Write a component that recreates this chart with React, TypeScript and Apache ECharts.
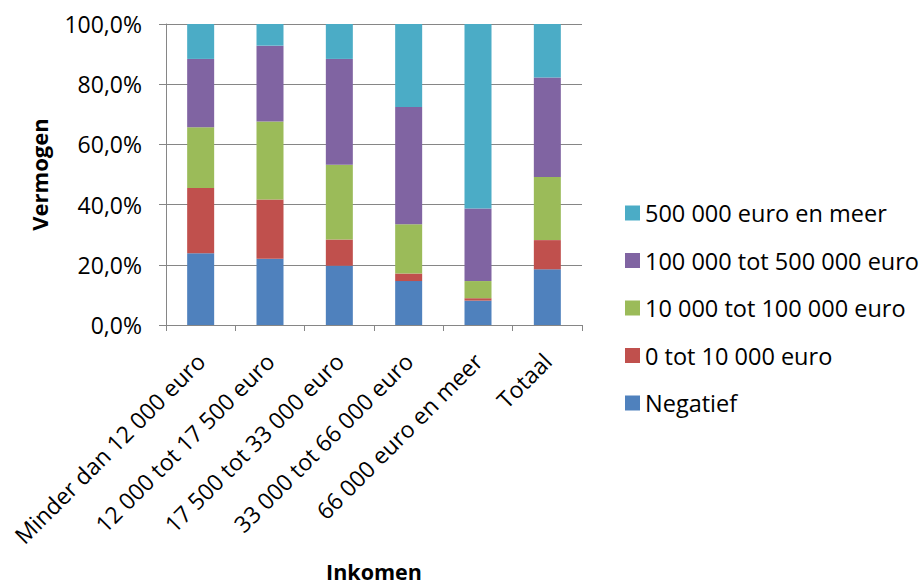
import React, { useEffect, useRef } from 'react';
import * as echarts from 'echarts';

const categories = [
  'Minder dan 12 000 euro',
  '12 000 tot 17 500 euro',
  '17 500 tot 33 000 euro',
  '33 000 tot 66 000 euro',
  '66 000 euro en meer',
  'Totaal',
];
const seriesNames = [
  'Negatief',
  '0 tot 10 000 euro',
  '10 000 tot 100 000 euro',
  '100 000 tot 500 000 euro',
  '500 000 euro en meer',
];
const negatief = [23.8, 22.0, 19.7, 14.6, 8.1, 18.5];
const nulTot10k = [21.7, 19.7, 8.7, 2.5, 0.8, 9.7];
const tienTot100k = [20.2, 25.9, 24.8, 16.4, 5.7, 21.0];
const honderdTot500k = [22.7, 25.2, 35.2, 38.9, 24.1, 33.0];
const meerDan500k = [11.6, 7.2, 11.6, 27.6, 61.3, 17.8];
const seriesValues = [negatief, nulTot10k, tienTot100k, honderdTot500k, meerDan500k];
const colors = ['#4F81BD', '#C0504D', '#9BBB59', '#8064A2', '#4BACC6'];
const yTicks = [0, 20, 40, 60, 80, 100];

const FONT = '"Open Sans", sans-serif';
const AXIS_GRAY = '#868686';

export default function App() {
  const ref = useRef<HTMLDivElement>(null);
  useEffect(() => {
    if (!ref.current) return;
    const chart = echarts.init(ref.current, undefined, { renderer: 'svg' });
    chart.setOption({
      animation: false,
      backgroundColor: '#ffffff',
      textStyle: { fontFamily: FONT, color: '#000' },
      grid: {
        left: 166,
        top: 24,
        width: 416,
        height: 301,
        containLabel: false,
        outerBoundsMode: 'none',
      },
      legend: {
        orient: 'vertical',
        left: 620,
        top: 196,
        itemWidth: 15,
        itemHeight: 15,
        itemGap: 23.5,
        icon: 'rect',
        data: seriesNames.slice().reverse(),
        textStyle: { fontFamily: FONT, fontSize: 23.5, color: '#000', lineHeight: 24 },
      },
      xAxis: {
        type: 'category',
        data: categories,
        name: 'Inkomen',
        nameLocation: 'middle',
        nameGap: 235,
        nameTextStyle: {
          fontFamily: FONT,
          fontSize: 21.5,
          fontWeight: 'bold',
          color: '#000',
          lineHeight: 22,
        },
        axisLine: { lineStyle: { color: AXIS_GRAY, width: 1 } },
        axisTick: { show: true, length: 6, lineStyle: { color: AXIS_GRAY } },
        axisLabel: {
          rotate: 45,
          interval: 0,
          margin: 32,
          fontFamily: FONT,
          fontSize: 23,
          color: '#000',
        },
      },
      yAxis: {
        type: 'value',
        min: yTicks[0],
        max: yTicks[yTicks.length - 1],
        interval: 20,
        name: 'Vermogen',
        nameLocation: 'middle',
        nameRotate: 90,
        nameGap: 116,
        nameTextStyle: { fontFamily: FONT, fontSize: 22, fontWeight: 'bold', color: '#000' },
        axisLine: { show: true, lineStyle: { color: AXIS_GRAY, width: 1 } },
        axisTick: { show: true, length: 7, lineStyle: { color: AXIS_GRAY } },
        splitLine: { show: true, lineStyle: { color: AXIS_GRAY, width: 1 } },
        axisLabel: {
          margin: 24,
          fontFamily: FONT,
          fontSize: 23,
          color: '#000',
          formatter: (v: number) => v.toFixed(1).replace('.', ',') + '%',
        },
      },
      series: seriesNames.map((name, i) => ({
        name,
        type: 'bar',
        stack: 'total',
        barWidth: 27,
        data: seriesValues[i],
        itemStyle: { color: colors[i] },
      })),
    });
    return () => chart.dispose();
  }, []);
  return (
    <div
      ref={ref}
      style={{ position: 'absolute', left: 0, top: 0, width: 921, height: 587 }}
    />
  );
}
